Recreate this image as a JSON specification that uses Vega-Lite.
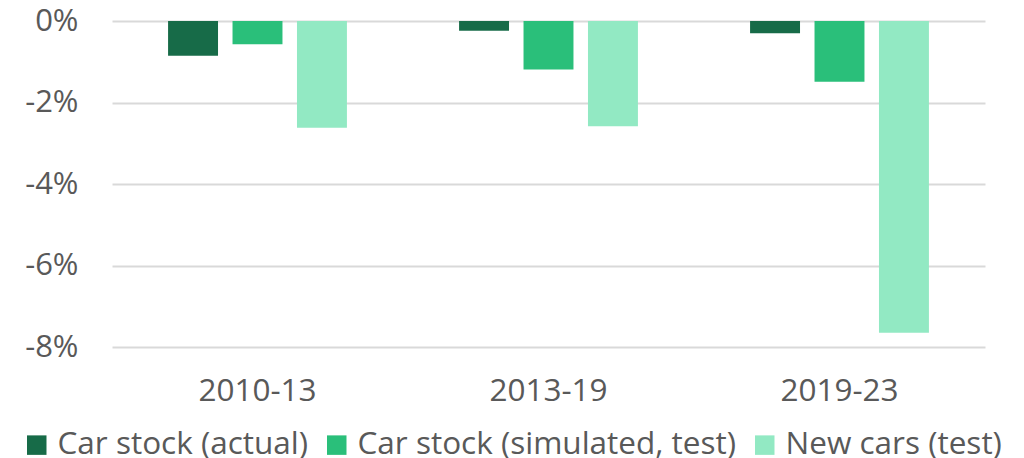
{
  "$schema": "https://vega.github.io/schema/vega-lite/v6.json",
  "autosize": {"type": "none"},
  "width": 873,
  "height": 326,
  "padding": {"left": 112, "top": 21, "right": 39, "bottom": 111},
  "background": "white",
  "config": {
    "view": {"stroke": null},
    "font": "Open Sans"
  },
  "data": {
    "values": [
      {"period": "2010-13", "series": "Car stock (actual)", "value": -0.85},
      {"period": "2010-13", "series": "Car stock (simulated, test)", "value": -0.57},
      {"period": "2010-13", "series": "New cars (test)", "value": -2.62},
      {"period": "2013-19", "series": "Car stock (actual)", "value": -0.24},
      {"period": "2013-19", "series": "Car stock (simulated, test)", "value": -1.19},
      {"period": "2013-19", "series": "New cars (test)", "value": -2.58},
      {"period": "2019-23", "series": "Car stock (actual)", "value": -0.3},
      {"period": "2019-23", "series": "Car stock (simulated, test)", "value": -1.49},
      {"period": "2019-23", "series": "New cars (test)", "value": -7.65}
    ]
  },
  "mark": {"type": "bar"},
  "encoding": {
    "x": {
      "field": "period",
      "type": "nominal",
      "scale": {"paddingInner": 0, "paddingOuter": 0},
      "axis": {
        "title": null,
        "domain": false,
        "ticks": false,
        "labelAngle": 0,
        "labelFontSize": 31.5,
        "labelColor": "#595959",
        "labelPadding": 28
      }
    },
    "xOffset": {
      "field": "series",
      "type": "nominal",
      "scale": {"paddingInner": 0.225, "paddingOuter": 0.87},
      "sort": ["Car stock (actual)", "Car stock (simulated, test)", "New cars (test)"]
    },
    "y": {
      "field": "value",
      "type": "quantitative",
      "scale": {"domain": [-8, 0], "nice": false},
      "axis": {
        "title": null,
        "domain": false,
        "ticks": false,
        "values": [-8, -6, -4, -2, 0],
        "labelExpr": "datum.value + '%'",
        "labelFontSize": 31,
        "labelColor": "#595959",
        "labelPadding": 34,
        "gridColor": "#d9d9d9",
        "gridWidth": 2
      }
    },
    "color": {
      "field": "series",
      "type": "nominal",
      "sort": ["Car stock (actual)", "Car stock (simulated, test)", "New cars (test)"],
      "scale": {
        "domain": ["Car stock (actual)", "Car stock (simulated, test)", "New cars (test)"],
        "range": ["#176B48", "#2ABF7A", "#92E9C3"]
      },
      "legend": {
        "title": null,
        "orient": "none",
        "direction": "horizontal",
        "legendX": -91,
        "legendY": 408,
        "padding": 0,
        "symbolType": "square",
        "symbolSize": 380,
        "symbolStrokeWidth": 0,
        "labelFontSize": 31.5,
        "labelColor": "#595959",
        "labelOffset": 5,
        "columnPadding": 12,
        "labelLimit": 500
      }
    }
  }
}
